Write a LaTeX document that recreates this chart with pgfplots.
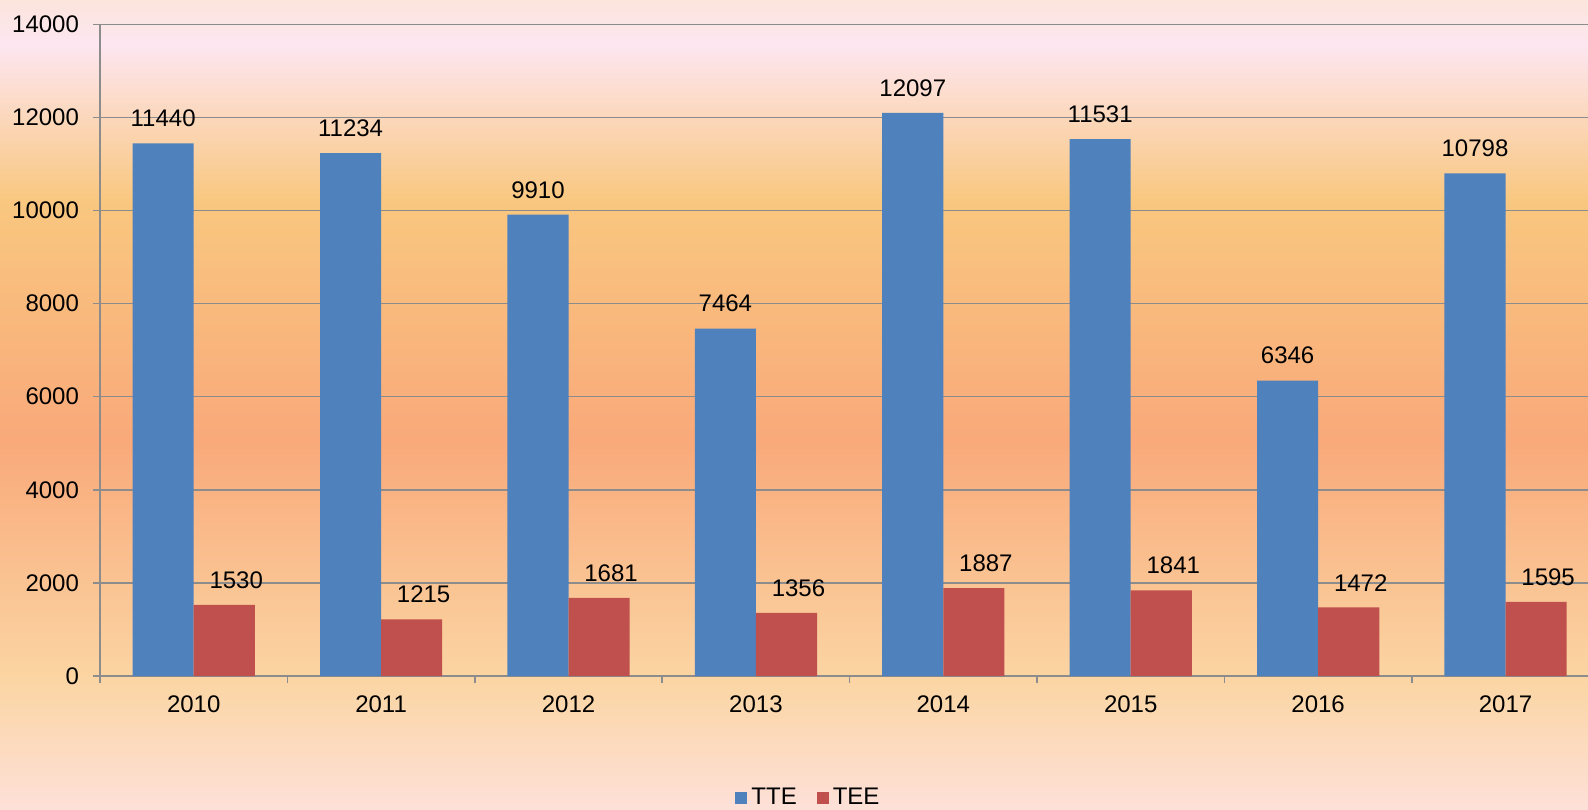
\documentclass[border=0pt]{standalone}
\usepackage{fontspec}
\setmainfont{Liberation Sans}
\usepackage{pgfplots}
\pgfplotsset{compat=1.18}
\definecolor{ttecol}{HTML}{4F81BD}
\definecolor{teecol}{HTML}{C0504D}
\definecolor{gridc}{HTML}{8C8C8C}
\definecolor{bgA}{HTML}{FDE0D8}
\definecolor{bgB}{HTML}{FBD5A3}
\definecolor{bgC}{HTML}{F9A97A}
\definecolor{bgD}{HTML}{F9C77F}
\definecolor{bgE}{HTML}{FDE6F0}
\definecolor{bgF}{HTML}{FCE5DC}
\pgfdeclareverticalshading{bgshade}{100bp}{color(0bp)=(bgA); color(25bp)=(bgA); color(33bp)=(bgB); color(47.8bp)=(bgC); color(62.6bp)=(bgD); color(72.2bp)=(bgE); color(75bp)=(bgF); color(100bp)=(bgF)}

\pgfplotstableread{
x tte tee
0 11440 1530
1 11234 1215
2 9910 1681
3 7464 1356
4 12097 1887
5 11531 1841
6 6346 1472
7 10798 1595
}\datatable

\begin{document}
\begin{tikzpicture}
\shade[shading=bgshade] (0pt,0pt) rectangle (794pt,404.5pt);
\useasboundingbox (0pt,0pt) rectangle (794pt,404.5pt);
\begin{axis}[
  at={(50pt,66.5pt)}, anchor=south west,
  scale only axis, width=744pt, height=325.85pt,
  xmin=-0.5, xmax=7.44, ymin=0, ymax=14000,
  scaled ticks=false,
  ybar=0pt, bar width=0.326,
  axis x line=bottom, axis y line=left,
  axis line style={-, draw=gridc, line width=0.75pt},
  ytick={0,2000,...,14000},
  ymajorgrids, grid style={draw=gridc, line width=0.75pt},
  xtick={0,...,7}, xticklabels={2010,2011,2012,2013,2014,2015,2016,2017},
  minor xtick={-0.5,0.5,...,6.5},
  tick align=outside,
  major x tick style={draw=none},
  tick style={draw=gridc, line width=0.75pt},
  major tick length=3.5pt, minor tick length=3.5pt,
  /pgf/number format/assume math mode=true,
  /pgf/number format/1000 sep={},
  tick label style={font=\fontsize{12}{14}\selectfont, text=black},
  yticklabel style={xshift=-3.5pt},
  xticklabel style={yshift=-3pt},
  nodes near coords,
  every node near coord/.append style={font=\fontsize{12}{14}\selectfont, anchor=south, inner sep=0pt, yshift=8pt, text=black},
  legend style={at={(0.4768,-0.187)}, anchor=center, draw=none, fill=none, legend columns=2, font=\fontsize{12}{14}\selectfont, /tikz/every even column/.append style={column sep=8pt}},
  legend image code/.code={\fill[#1,draw=none] (0pt,-3pt) rectangle (6pt,3pt);},
  clip=false,
]
\addplot[fill=ttecol, draw=none] table[x=x, y=tte] {\datatable};
\addplot[fill=teecol, draw=none, every node near coord/.append style={xshift=6pt}] table[x=x, y=tee] {\datatable};
\legend{TTE, TEE}
\end{axis}
\end{tikzpicture}
\end{document}
